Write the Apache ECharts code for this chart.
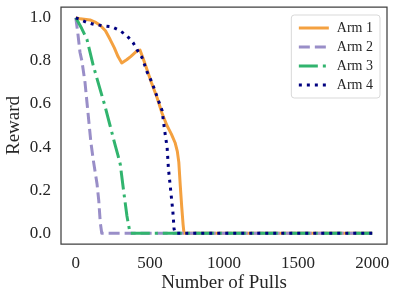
<!DOCTYPE html>
<html><head><meta charset="utf-8">
<script src="https://cdn.jsdelivr.net/npm/echarts@6/dist/echarts.min.js"></script>
<style>html,body{margin:0;padding:0;background:#fff}#c{width:398px;height:300px}</style>
</head><body><div id="c"></div>
<script>
const seriesNames = ['Arm 1','Arm 2','Arm 3','Arm 4'];
const xTicks = [0,500,1000,1500,2000];
const yTicks = [0,0.2,0.4,0.6,0.8,1.0];
const arm1 = [[0,1.00],[30,0.995],[96,0.99],[130,0.98],[164,0.965],[200,0.94],[231,0.90],[260,0.86],[285,0.82],[310,0.79],[343,0.805],[370,0.82],[411,0.845],[433,0.85],[455,0.81],[480,0.76],[510,0.70],[548,0.63],[582,0.557],[615,0.50],[645,0.46],[670,0.42],[685,0.38],[695,0.33],[705,0.22],[715,0.12],[724,0.04],[730,0.0],[2000,0.0]];
const arm2 = [[0,1.0],[15,0.92],[28,0.84],[41,0.80],[62,0.70],[82,0.56],[102,0.42],[120,0.33],[143,0.23],[155,0.15],[165,0.05],[175,0.0],[2000,0.0]];
const arm3 = [[0,1.0],[40,0.95],[75,0.90],[117,0.78],[163,0.67],[197,0.59],[231,0.50],[265,0.41],[285,0.36],[300,0.32],[320,0.21],[345,0.08],[366,0.0],[2000,0.0]];
const arm4 = [[0,1.0],[76,0.978],[130,0.968],[184,0.963],[244,0.958],[298,0.94],[345,0.917],[386,0.885],[413,0.852],[447,0.815],[480,0.75],[514,0.70],[555,0.62],[582,0.57],[595,0.50],[605,0.45],[616,0.40],[625,0.30],[640,0.20],[655,0.10],[663,0.02],[670,0.0],[2000,0.0]];

const font = 'Liberation Serif';
const txt = '#262626';
const chart = echarts.init(document.getElementById('c'), null, {renderer:'canvas'});
function mk(name, data, color, type, dash){
  return {name, type:'line', data, symbol:'none', showSymbol:false, animation:false,
    lineStyle:{color, width:3, type: dash || type, cap:'butt', join:'round'}, itemStyle:{color}, z:2};
}
chart.setOption({
  animation:false,
  backgroundColor:'#fff',
  grid:{left:61, right:11, top:7, bottom:56, containLabel:false, outerBoundsMode:'none', show:true, borderColor:'#404040', borderWidth:1.25, backgroundColor:'transparent'},
  legend:{
    orient:'vertical', right:18, top:15, data:seriesNames,
    itemWidth:30, itemHeight:10, itemGap:5,
    padding:[6,7,6,6],
    itemStyle:{opacity:0},
    lineStyle:{width:3},
    borderColor:'#d9d9d9', borderWidth:1, borderRadius:3, backgroundColor:'#fff',
    textStyle:{fontFamily:font, fontSize:14, color:txt, padding:[0,0,0,3]}
  },
  xAxis:{type:'value', min:-100, max:2100,
    name:'Number of Pulls', nameLocation:'middle', nameGap:30, nameMoveOverlap:false,
    nameTextStyle:{fontFamily:font, fontSize:19, color:txt},
    axisLine:{show:false}, axisTick:{show:false}, splitLine:{show:false},
    axisLabel:{customValues:xTicks, fontFamily:font, fontSize:17, color:txt, margin:11,
      formatter:v=>String(v)}
  },
  yAxis:{type:'value', min:-0.05, max:1.05,
    name:'Reward', nameLocation:'middle', nameGap:37, nameRotate:90, nameMoveOverlap:false,
    nameTextStyle:{fontFamily:font, fontSize:19, color:txt},
    axisLine:{show:false}, axisTick:{show:false}, splitLine:{show:false},
    axisLabel:{customValues:yTicks, fontFamily:font, fontSize:17, color:txt, margin:10,
      formatter:v=>v.toFixed(1)}
  },
  series:[
    mk('Arm 1', arm1, '#f4a140', 'solid'),
    mk('Arm 2', arm2, '#998ec8', 'dashed', [11,5]),
    mk('Arm 3', arm3, '#31b46e', 'dashed', [19,5,3,5]),
    mk('Arm 4', arm4, '#000080', 'dotted', [3,5])
  ]
});
</script></body></html>
